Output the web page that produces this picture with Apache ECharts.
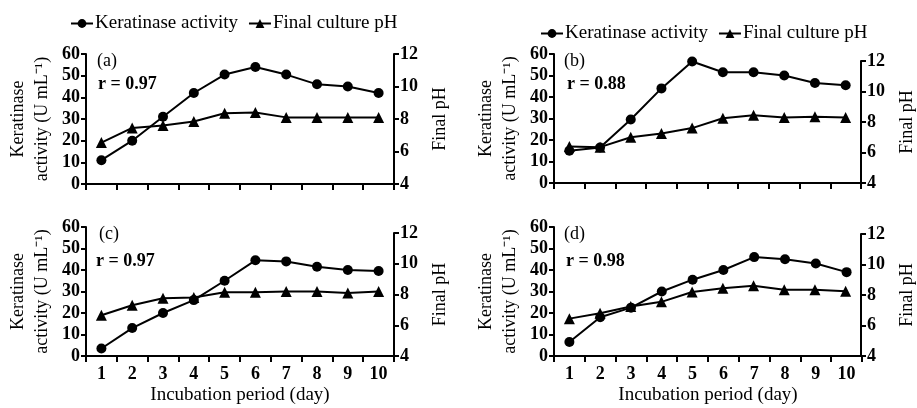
<!DOCTYPE html>
<html>
<head>
<meta charset="utf-8">
<script src="https://cdn.jsdelivr.net/npm/echarts@6/dist/echarts.min.js"></script>
<style>
html,body{margin:0;padding:0;background:#fff;}
#chart{width:917px;height:408px;}
</style>
</head>
<body>
<div id="chart"></div>
<script>
// ---- data ----
var days = ['1','2','3','4','5','6','7','8','9','10'];
var panelLabels = ['(a)','(b)','(c)','(d)'];
var rLabels = ['r = 0.97','r = 0.88','r = 0.97','r = 0.98'];
var actA = [11, 20, 31, 42, 50.5, 54, 50.5, 46, 45, 42];
var phA  = [6.55, 7.45, 7.6, 7.85, 8.35, 8.4, 8.1, 8.1, 8.1, 8.1];
var actB = [15, 16.5, 29.5, 44, 56.5, 51.5, 51.5, 50, 46.5, 45.5];
var phB  = [6.4, 6.35, 7.0, 7.25, 7.6, 8.25, 8.45, 8.3, 8.35, 8.3];
var actC = [3.5, 13, 20, 26, 35, 44.5, 44, 41.5, 40, 39.5];
var phC  = [6.65, 7.3, 7.75, 7.8, 8.15, 8.15, 8.2, 8.2, 8.1, 8.2];
var actD = [6.5, 18, 22.5, 30, 35.5, 40, 46, 45, 43, 39];
var phD  = [6.45, 6.8, 7.25, 7.55, 8.2, 8.45, 8.6, 8.35, 8.35, 8.25];
var activitySets = [actA, actB, actC, actD];
var phSets = [phA, phB, phC, phD];
var actName = 'Keratinase activity';
var phName = 'Final culture pH';

// ---- layout ----
var FONT = '"Liberation Serif","Times New Roman",serif';
var panels = [
  {left:86,  top:54,  width:308, height:130, rTop:54,  lx:97,  ly:62,  rx:98,  ry:85},
  {left:554, top:54,  width:307, height:129, rTop:61,  lx:564, ly:62,  rx:567, ry:85},
  {left:86,  top:227, width:308, height:129, rTop:233, lx:99,  ly:235, rx:96,  ry:262},
  {left:554, top:227, width:308, height:129, rTop:234, lx:564, ly:235, rx:566, ry:262}
];

var grids = [], xAxes = [], yAxes = [], series = [], graphics = [];
var axLine = {show:true, lineStyle:{color:'#000', width:2}};
var axTick = {show:true, length:5, lineStyle:{color:'#000', width:2}};

panels.forEach(function(p, i){
  var bottom = p.top + p.height;
  grids.push({left:p.left, top:p.top, width:p.width, height:p.height});
  grids.push({left:p.left, top:p.rTop, width:p.width, height:bottom - p.rTop});
  var showX = i >= 2;
  xAxes.push({
    type:'category', gridIndex:2*i, data:days, boundaryGap:true,
    axisLine:axLine, axisTick:{show:true, length:6, alignWithLabel:false, lineStyle:{color:'#000', width:2}},
    axisLabel:{show:showX, color:'#000', fontFamily:FONT, fontSize:18, fontWeight:'bold', margin:9},
    name: showX ? 'Incubation period (day)' : '',
    nameLocation:'middle', nameGap:30,
    nameTextStyle:{color:'#000', fontFamily:FONT, fontSize:19}
  });
  xAxes.push({type:'category', gridIndex:2*i+1, data:days, boundaryGap:true, show:false});
  yAxes.push({
    type:'value', gridIndex:2*i, position:'left', min:0, max:60, interval:10,
    axisLine:axLine, axisTick:axTick, splitLine:{show:false},
    axisLabel:{color:'#000', fontFamily:FONT, fontSize:18, fontWeight:'bold', margin:6},
    name:'Keratinase\nactivity (U mL⁻¹)', nameLocation:'middle', nameGap:32, nameRotate:90,
    nameTextStyle:{color:'#000', fontFamily:FONT, fontSize:18, lineHeight:24}
  });
  yAxes.push({
    type:'value', gridIndex:2*i+1, position:'right', min:4, max:12, interval:2,
    axisLine:axLine, axisTick:axTick, splitLine:{show:false},
    axisLabel:{color:'#000', fontFamily:FONT, fontSize:18, fontWeight:'bold', margin:6},
    name:'Final pH', nameLocation:'middle', nameGap:37, nameRotate:90,
    nameTextStyle:{color:'#000', fontFamily:FONT, fontSize:18}
  });
  series.push({
    name:actName, type:'line', xAxisIndex:2*i, yAxisIndex:2*i, data:activitySets[i],
    symbol:'circle', symbolSize:10, itemStyle:{color:'#000'}, lineStyle:{color:'#000', width:2}, z:3
  });
  series.push({
    name:phName, type:'line', xAxisIndex:2*i+1, yAxisIndex:2*i+1, data:phSets[i],
    symbol:'triangle', symbolSize:11, itemStyle:{color:'#000'}, lineStyle:{color:'#000', width:2}, z:3
  });
  graphics.push({type:'text', left:p.lx, top:p.ly - 10, style:{text:panelLabels[i], fill:'#000', font:'18px ' + FONT}});
  graphics.push({type:'text', left:p.rx, top:p.ry - 10, style:{text:rLabels[i], fill:'#000', font:'bold 18px ' + FONT}});
});

var legendText = {color:'#000', fontFamily:FONT, fontSize:19, padding:[0,0,0,-3]};
var legends = [
  {left:70, top:14, padding:0, itemWidth:22, itemHeight:11, itemGap:10, data:[actName, phName], textStyle:legendText, selectedMode:false},
  {left:540, top:24, padding:0, itemWidth:22, itemHeight:11, itemGap:10, data:[actName, phName], textStyle:legendText, selectedMode:false}
];

var chart = echarts.init(document.getElementById('chart'), null, {renderer:'canvas'});
chart.setOption({
  animation:false,
  backgroundColor:'#fff',
  legend:legends,
  grid:grids,
  xAxis:xAxes,
  yAxis:yAxes,
  series:series,
  graphic:graphics
});
</script>
</body>
</html>
